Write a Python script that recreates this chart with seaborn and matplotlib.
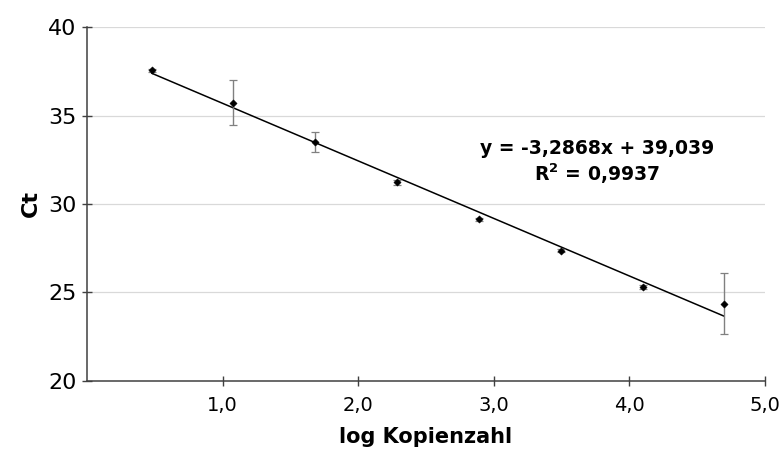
import numpy as np
import pandas as pd
import matplotlib
matplotlib.use("Agg")
import matplotlib.pyplot as plt
import seaborn as sns

# Standard curve data (log copy number vs. Ct)
log_copies = [0.477, 1.079, 1.681, 2.290, 2.893, 3.495, 4.097, 4.699]
ct_mean = [37.56, 35.72, 33.50, 31.22, 29.12, 27.35, 25.30, 24.35]
ct_err = [0.08, 1.28, 0.57, 0.14, 0.08, 0.08, 0.10, 1.73]

x_ticks = [1, 2, 3, 4, 5]
x_tick_labels = ["1,0", "2,0", "3,0", "4,0", "5,0"]
y_ticks = [20, 25, 30, 35, 40]

equation_text = "y = -3,2868x + 39,039"
r2_text = "R$^\\mathbf{2}$ = 0,9937"

df = pd.DataFrame({"log_copies": log_copies, "ct": ct_mean, "err": ct_err})

sns.set_style("white")
plt.rcParams["font.family"] = ["DejaVu Sans"]
plt.rcParams["text.color"] = "black"
plt.rcParams["axes.labelcolor"] = "black"
plt.rcParams["xtick.color"] = "black"
plt.rcParams["ytick.color"] = "black"
plt.rcParams["mathtext.default"] = "bf"

fig, ax = plt.subplots(figsize=(7.83, 4.53), dpi=100)
fig.subplots_adjust(left=0.111, right=0.977, top=0.94, bottom=0.16)

# grid lines
for yv in y_ticks[1:]:
    ax.axhline(yv, color="#d9d9d9", lw=0.9, zorder=0)

# linear trend line
sns.regplot(data=df, x="log_copies", y="ct", ci=None, truncate=True,
            scatter=False, ax=ax, line_kws={"color": "black", "lw": 1.1})

# error bars + points
ax.errorbar(df["log_copies"], df["ct"], yerr=df["err"], fmt="none",
            ecolor="#808080", elinewidth=1.0, capsize=3, capthick=0.9, zorder=3)
sns.scatterplot(data=df, x="log_copies", y="ct", marker="D", s=14,
                color="black", edgecolor="black", ax=ax, zorder=4)

ax.text(3.76, 33.15, equation_text, ha="center", va="center",
        fontsize=13.5, fontweight="bold")
ax.text(3.76, 31.7, r2_text, ha="center", va="center",
        fontsize=13.5, fontweight="bold")

ax.set_xlim(0, 5)
ax.set_ylim(20, 40)
ax.set_xticks(x_ticks)
ax.set_xticklabels(x_tick_labels, fontsize=14)
ax.set_yticks(y_ticks)
ax.tick_params(axis="y", labelsize=16, pad=4)
ax.tick_params(axis="x", pad=8)
ax.tick_params(axis="both", direction="inout", length=7, width=1,
               color="#404040", left=True, bottom=True)
ax.set_xlabel("log Kopienzahl", fontsize=15, fontweight="bold", labelpad=8)
ax.set_ylabel("Ct", fontsize=16, fontweight="bold", labelpad=5)

for side in ["top", "right"]:
    ax.spines[side].set_visible(False)
for side in ["left", "bottom"]:
    ax.spines[side].set_color("#404040")
    ax.spines[side].set_linewidth(1.1)

fig.savefig("out.png", dpi=100)
